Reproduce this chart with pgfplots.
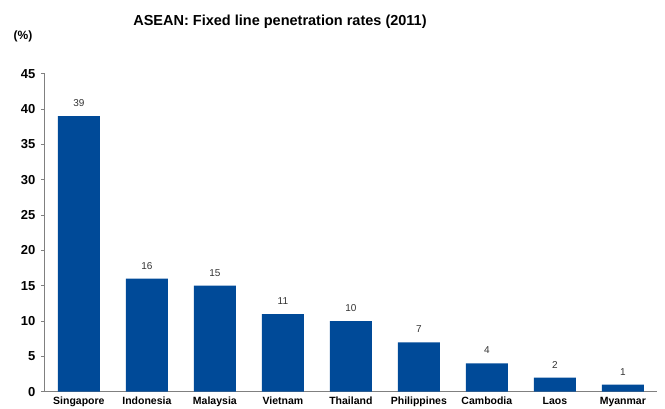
\documentclass[border=0pt]{standalone}
\usepackage{pgfplots}
\pgfplotsset{compat=1.18}
\usepackage{fontspec}
\setmainfont{Liberation Sans}
\definecolor{barblue}{RGB}{0,74,152}
\definecolor{axgray}{RGB}{128,128,128}
\begin{document}
\begin{tikzpicture}[x=1pt,y=1pt]
\useasboundingbox (0,0) rectangle (665,408);
\begin{axis}[
  at={(66,23)}, anchor=south west,
  scale only axis, width=612pt, height=318pt,
  xmin=-0.5, xmax=8.5, ymin=0, ymax=45,
  ytick={0,5,...,45},
  xtick=data,
  xticklabels={Singapore,Indonesia,Malaysia,Vietnam,Thailand,Philippines,Cambodia,Laos,Myanmar},
  axis x line*=bottom, axis y line*=left,
  axis line style={axgray, line width=0.8pt, -},
  x axis line style={-},
  y axis line style={-},
  xtick style={draw=none},
  ytick style={axgray, line width=0.8pt},
  tick align=outside,
  major tick length=4pt,
  yticklabel style={font=\bfseries\fontsize{13}{15}\selectfont, xshift=-2pt},
  xticklabel style={font=\bfseries\fontsize{10.5}{12}\selectfont, yshift=2pt},
  /pgf/number format/assume math mode=true,
  nodes near coords,
  every node near coord/.append style={font=\fontsize{10}{12}\selectfont, text=black!80, yshift=6pt},
  clip=false,
]
\addplot[ybar, bar width=42pt, fill=barblue, draw=none] coordinates {
(0,39) (1,16) (2,15) (3,11) (4,10) (5,7) (6,4) (7,2) (8,1)
};
\end{axis}
\node[font=\bfseries\fontsize{14.5}{16}\selectfont] at (280,386) {ASEAN: Fixed line penetration rates (2011)};
\node[font=\bfseries\fontsize{12}{14}\selectfont] at (23,372) {(\%)};
\end{tikzpicture}
\end{document}
